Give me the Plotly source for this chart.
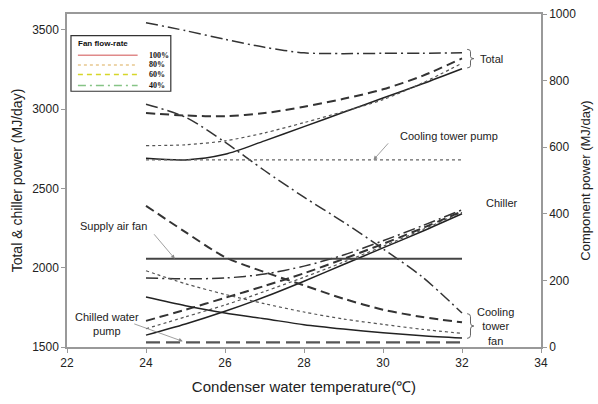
import plotly.graph_objects as go

temps = [24, 25, 26, 27, 28, 29, 30, 31, 32]

# Left axis (Total & chiller power, MJ/day)
total_100 = [2690, 2680, 2715, 2800, 2890, 2980, 3070, 3160, 3255]
total_80 = [2770, 2775, 2800, 2850, 2915, 2985, 3060, 3165, 3290]
total_60 = [2975, 2960, 2955, 2975, 3015, 3065, 3125, 3210, 3320]
total_40 = [3545, 3495, 3440, 3390, 3355, 3350, 3352, 3353, 3355]

chiller_100 = [1575, 1645, 1725, 1815, 1915, 2020, 2125, 2230, 2340]
chiller_80 = [1615, 1690, 1765, 1850, 1940, 2035, 2135, 2240, 2350]
chiller_60 = [1665, 1735, 1810, 1885, 1965, 2055, 2150, 2250, 2355]
chiller_40 = [1935, 1930, 1935, 1960, 2010, 2080, 2170, 2265, 2365]

# Right axis (Component power, MJ/day)
ctfan_100 = [150, 124, 102, 85, 67, 54, 43, 34, 27]
ctfan_80 = [229, 190, 158, 130, 105, 84, 68, 53, 41]
ctfan_60 = [424, 345, 270, 225, 185, 145, 112, 90, 74]
ctfan_40 = [729, 690, 615, 530, 450, 375, 295, 210, 102]

supply_air_fan = [265] * len(temps)
ct_pump = [562] * len(temps)
chw_pump = [14] * len(temps)

flow_labels = ["100%", "80%", "60%", "40%"]
legend_colors = ["#e08a8a", "#e8c890", "#d6d62a", "#86c486"]

styles = {
    "100%": dict(color="#222222", width=1.5, dash="solid"),
    "80%": dict(color="#555555", width=1.2, dash="dot"),
    "60%": dict(color="#333333", width=2, dash="9px,5px"),
    "40%": dict(color="#333333", width=1.5, dash="12px,4px,2px,4px"),
}

fig = go.Figure()

left_sets = [total_100, total_80, total_60, total_40, chiller_100, chiller_80, chiller_60, chiller_40]
left_flows = flow_labels * 2
for vals, fl in zip(left_sets, left_flows):
    fig.add_trace(go.Scatter(x=temps, y=vals, mode="lines", line=dict(**styles[fl], shape="spline", smoothing=0.8),
                             yaxis="y", showlegend=False, hoverinfo="skip"))

for vals, fl in zip([ctfan_100, ctfan_80, ctfan_60, ctfan_40], flow_labels):
    fig.add_trace(go.Scatter(x=temps, y=vals, mode="lines", line=dict(**styles[fl], shape="spline", smoothing=0.8),
                             yaxis="y2", showlegend=False, hoverinfo="skip"))

fig.add_trace(go.Scatter(x=temps, y=supply_air_fan, mode="lines",
                         line=dict(color="#444444", width=2), yaxis="y2", showlegend=False))
fig.add_trace(go.Scatter(x=temps, y=ct_pump, mode="lines",
                         line=dict(color="#666666", width=1.2, dash="dot"), yaxis="y2", showlegend=False))
fig.add_trace(go.Scatter(x=temps, y=chw_pump, mode="lines",
                         line=dict(color="#555555", width=2.2, dash="14px,6px"), yaxis="y2", showlegend=False))

afont = dict(family="Liberation Sans, Arial, sans-serif", size=11, color="#222222")
annotations = [
    dict(x=23.17, y=362, xref="x", yref="y2", text="Supply air fan", showarrow=False, font=afont),
    dict(x=23.01, y=70, xref="x", yref="y2", text="Chilled water<br>pump", showarrow=False, font=afont),
    dict(x=31.68, y=634, xref="x", yref="y2", text="Cooling tower pump", showarrow=False, font=afont),
    dict(x=33.02, y=432, xref="x", yref="y2", text="Chiller", showarrow=False, font=afont),
    dict(x=32.74, y=865, xref="x", yref="y2", text="Total", showarrow=False, font=afont),
    dict(x=32.86, y=62, xref="x", yref="y2", text="Cooling<br>tower<br>fan", showarrow=False,
         font=afont, align="center"),
    # arrows
    dict(x=24.73, y=265, xref="x", yref="y2", text="", showarrow=True, ax=-22, ay=-26,
         arrowhead=2, arrowsize=1, arrowwidth=0.8, arrowcolor="#888888"),
    dict(x=29.76, y=562, xref="x", yref="y2", text="", showarrow=True, ax=16, ay=-18,
         arrowhead=2, arrowsize=1, arrowwidth=0.8, arrowcolor="#888888"),
    dict(x=24.93, y=17, xref="x", yref="y2", text="", showarrow=True, ax=-50, ay=-18,
         arrowhead=2, arrowsize=1, arrowwidth=0.8, arrowcolor="#888888"),
]

# Legend box (manual)
lfont = dict(family="Liberation Serif, Times New Roman, serif", size=8, color="#111111")
annotations.append(dict(x=0.019, y=0.912, xref="paper", yref="paper", text="<b>Fan flow-rate</b>",
                        showarrow=False, xanchor="left", yanchor="middle",
                        font=dict(family="Liberation Sans, Arial, sans-serif", size=8, color="#111111")))
shapes = [dict(type="rect", xref="paper", yref="paper", x0=0.0084, x1=0.219, y0=0.768, y1=0.935,
               line=dict(color="#333333", width=1.2), fillcolor="white", layer="above")]
leg_y = [0.876, 0.847, 0.818, 0.785]
leg_dash = ["solid", "dot", "5px,4px", "8px,4px,2px,4px"]
for fl, col, yy, ds in zip(flow_labels, legend_colors, leg_y, leg_dash):
    shapes.append(dict(type="line", xref="paper", yref="paper", x0=0.023, x1=0.149, y0=yy, y1=yy,
                       line=dict(color=col, width=1.5, dash=ds), layer="above"))
    annotations.append(dict(x=0.169, y=yy, xref="paper", yref="paper", text="<b>%s</b>" % fl,
                            showarrow=False, xanchor="left", yanchor="middle", font=lfont))

# Braces
def brace(xl, xr, yt, yb, yref):
    ym = (yt + yb) / 2
    xm = (xl + xr) / 2
    d = (yt - yb) * 0.12
    path = (f"M {xl},{yt} Q {xm},{yt} {xm},{yt - d} L {xm},{ym + d} Q {xm},{ym} {xr},{ym} "
            f"Q {xm},{ym} {xm},{ym - d} L {xm},{yb + d} Q {xm},{yb} {xl},{yb}")
    return dict(type="path", xref="x", yref=yref, path=path, line=dict(color="#666666", width=1))

shapes.append(brace(32.13, 32.3, 3377, 3260, "y"))
shapes.append(brace(32.13, 32.3, 100, 26, "y2"))

tfont = dict(family="Liberation Sans, Arial, sans-serif", size=12, color="#222222")
axcol = "#999999"
fig.update_layout(
    width=598, height=404,
    margin=dict(l=67, r=56, t=7, b=57),
    plot_bgcolor="white", paper_bgcolor="white",
    showlegend=False,
    xaxis=dict(range=[22, 34], tickvals=[22, 24, 26, 28, 30, 32, 34], ticks="outside", ticklen=4,
               tickcolor=axcol, showline=True, linecolor=axcol, linewidth=1.5, mirror=True,
               showgrid=False, zeroline=False, tickfont=tfont,
               title=dict(text="Condenser water temperature(℃)",
                          font=dict(family="Liberation Sans, Arial, sans-serif", size=15, color="#222222"),
                          standoff=12)),
    yaxis=dict(range=[1500, 3600], tickvals=[1500, 2000, 2500, 3000, 3500], ticks="outside", ticklen=4,
               tickcolor=axcol, showline=True, linecolor=axcol, linewidth=1.5, showgrid=False,
               zeroline=False, tickfont=tfont,
               title=dict(text="Total & chiller power (MJ/day)",
                          font=dict(family="Liberation Sans, Arial, sans-serif", size=14, color="#222222"),
                          standoff=6)),
    yaxis2=dict(range=[0, 1000], tickvals=[0, 200, 400, 600, 800, 1000], ticks="outside", ticklen=4,
                tickcolor=axcol, showline=True, linecolor=axcol, linewidth=1.5, showgrid=False,
                zeroline=False, overlaying="y", side="right", tickfont=tfont,
                title=dict(text="Component power (MJ/day)",
                           font=dict(family="Liberation Sans, Arial, sans-serif", size=13, color="#222222"),
                           standoff=6)),
    annotations=annotations,
    shapes=shapes,
)

fig.write_html("out.html")
